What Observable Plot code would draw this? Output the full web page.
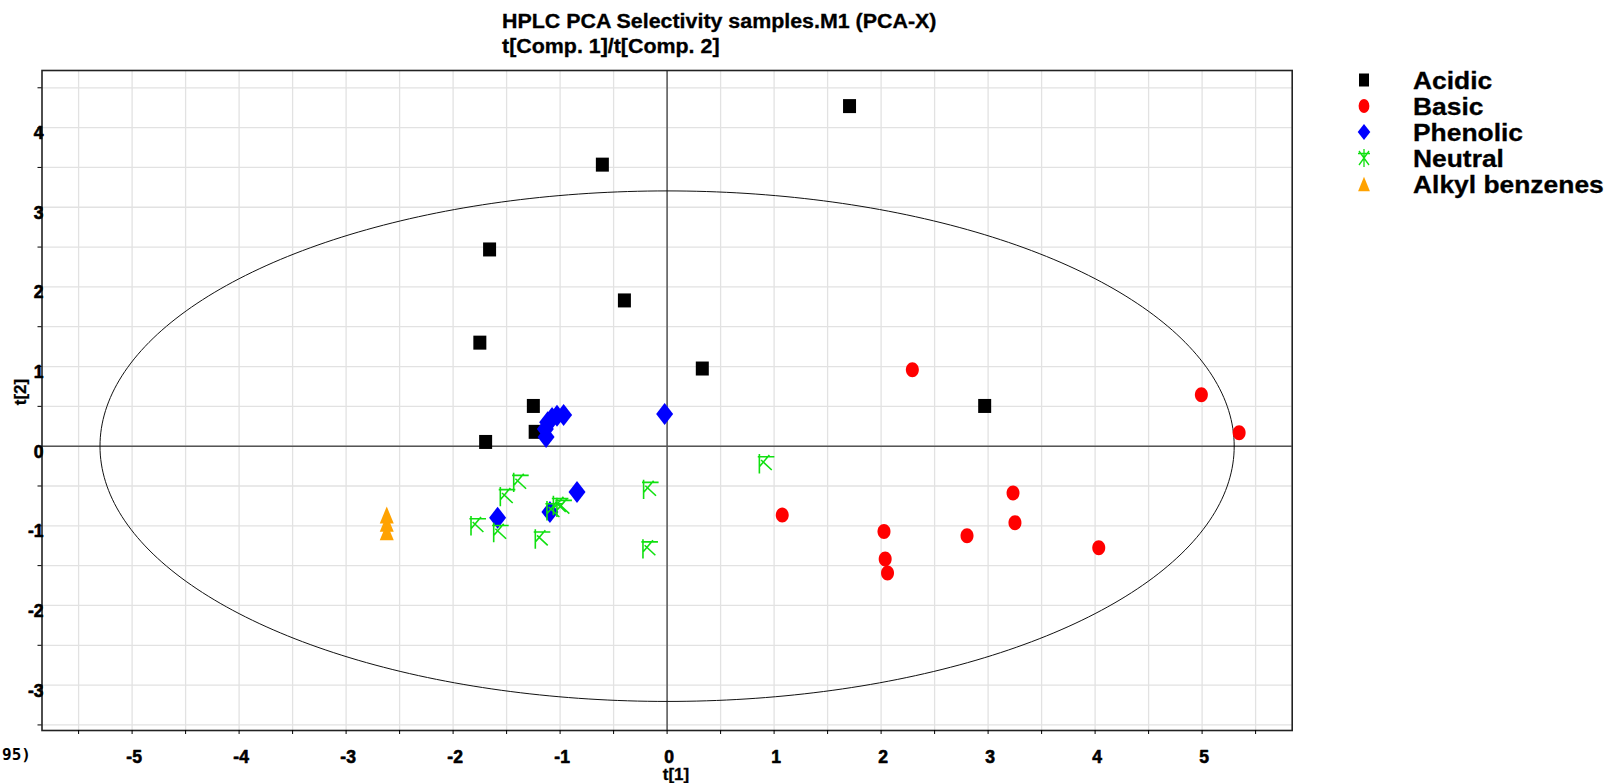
<!DOCTYPE html>
<html>
<head>
<meta charset="utf-8">
<script src="https://cdn.jsdelivr.net/npm/d3@7"></script>
<script src="https://cdn.jsdelivr.net/npm/@observablehq/plot@0.6"></script>
<style>
  body { margin: 0; background: #fff; }
  #wrap { position: relative; width: 1606px; height: 783px; overflow: hidden; font-family: "Liberation Sans", Arial, sans-serif; }
  #chart { position: absolute; left: 0; top: 0; }
  .t { position: absolute; white-space: nowrap; font-weight: bold; color: #000; line-height: 1; transform-origin: 0 0; -webkit-text-stroke: 0.3px #000; }
</style>
</head>
<body>
<div id="wrap">
  <div id="chart"></div>
  <div class="t" style="left:502px;top:10.5px;font-size:20px;transform:scaleX(1.07)">HPLC PCA Selectivity samples.M1 (PCA-X)</div>
  <div class="t" style="left:502px;top:35.5px;font-size:20px;transform:scaleX(1.07)">t[Comp. 1]/t[Comp. 2]</div>
  <div class="t" style="left:636px;top:766px;width:80px;text-align:center;font-size:17px">t[1]</div>
  <div class="t" style="left:20px;top:392px;font-size:17px;transform-origin:50% 50%;transform:translate(-50%,-50%) rotate(-90deg)">t[2]</div>
  <div class="t" style="left:2px;top:746.5px;font-size:16px;font-family:'DejaVu Sans Mono',monospace;-webkit-text-stroke:0">95)</div>
  <div id="legend"></div>
</div>
<script>
// ---------------- data ----------------
const categories = ["Acidic", "Basic", "Phenolic", "Neutral", "Alkyl benzenes"];

const acidicT1 = [1.705, -0.605, -1.659, -0.399, -1.750, 0.329, 2.968, -1.250, -1.233, -1.696];
const acidicT2 = [4.270, 3.535, 2.470, 1.830, 1.300, 0.975, 0.505, 0.505, 0.180, 0.053];

const basicT1 = [2.292, 4.993, 5.346, 1.076, 3.233, 3.251, 2.027, 2.803, 4.034, 2.038, 2.060];
const basicT2 = [0.961, 0.647, 0.170, -0.865, -0.588, -0.961, -1.070, -1.124, -1.275, -1.417, -1.593];

const phenolicT1 = [-0.023, -0.967, -1.029, -1.075, -1.116, -1.138, -1.131, -0.842, -1.095, -1.584];
const phenolicT2 = [0.405, 0.390, 0.383, 0.354, 0.300, 0.216, 0.115, -0.576, -0.825, -0.898];

const neutralT1 = [-1.371, -1.496, -1.770, -1.558, -1.169, -1.060, -0.967, -1.000, -0.157, -0.163, 0.925];
const neutralT2 = [-0.455, -0.634, -0.999, -1.083, -1.166, -0.810, -0.768, -0.745, -0.543, -1.290, -0.220];

const alkylT1 = [-2.620, -2.620, -2.620];
const alkylT2 = [-0.870, -0.975, -1.080];

const xTicks = [-5, -4, -3, -2, -1, 0, 1, 2, 3, 4, 5];
const yTicks = [-3, -2, -1, 0, 1, 2, 3, 4];
const xMinorTicks = [-5.5, -5, -4.5, -4, -3.5, -3, -2.5, -2, -1.5, -1, -0.5, 0, 0.5, 1, 1.5, 2, 2.5, 3, 3.5, 4, 4.5, 5, 5.5];
const yMinorTicks = [-3.5, -3, -2.5, -2, -1.5, -1, -0.5, 0, 0.5, 1, 1.5, 2, 2.5, 3, 3.5, 4, 4.5];

// Hotelling T2 (0.95) ellipse semi-axes
const ellipseA = 5.30;
const ellipseB = 3.205;

// ---------------- build tables ----------------
const zip = (xs, ys) => xs.map((x, i) => ({x, y: ys[i]}));
const acidic = zip(acidicT1, acidicT2);
const basic = zip(basicT1, basicT2);
const phenolic = zip(phenolicT1, phenolicT2);
const neutral = zip(neutralT1, neutralT2);
const alkyl = zip(alkylT1, alkylT2);
const ellipse = d3.range(0, 361, 1).map(deg => {
  const a = deg * Math.PI / 180;
  return {x: ellipseA * Math.cos(a), y: ellipseB * Math.sin(a)};
});

// ---------------- custom symbols ----------------
const rectSym = {draw(c) { c.rect(-6.5, -7, 13, 14); }};
const ovalSym = {draw(c) {
  const rx = 6.5, ry = 7.5, k = 0.5523;
  c.moveTo(rx, 0);
  c.bezierCurveTo(rx, ry * k, rx * k, ry, 0, ry);
  c.bezierCurveTo(-rx * k, ry, -rx, ry * k, -rx, 0);
  c.bezierCurveTo(-rx, -ry * k, -rx * k, -ry, 0, -ry);
  c.bezierCurveTo(rx * k, -ry, rx, -ry * k, rx, 0);
  c.closePath();
}};
const diamondSym = {draw(c) { c.moveTo(0, -11); c.lineTo(8.5, 0); c.lineTo(0, 11); c.lineTo(-8.5, 0); c.closePath(); }};
const triSym = {draw(c) { c.moveTo(0, -9); c.lineTo(7, 8); c.lineTo(-7, 8); c.closePath(); }};
const neutralSym = {draw(c) {
  c.moveTo(-6.7, -9.7); c.lineTo(-6.7, 9.7);
  c.moveTo(-8.3, -7); c.lineTo(8.3, -7);
  c.moveTo(-6.7, 3); c.lineTo(3.3, -8.7);
  c.moveTo(-5, -3.7); c.lineTo(5.7, 6.3);
}};

const green = "#10e010";
const orange = "#ffa200";

const plot = Plot.plot({
  width: 1606,
  height: 783,
  marginLeft: 41.5,
  marginRight: 314.3,
  marginTop: 70,
  marginBottom: 53,
  x: {domain: [-5.842, 5.842]},
  y: {domain: [-3.57, 4.717]},
  style: {background: "transparent", fontFamily: "Liberation Sans, Arial, sans-serif"},
  marks: [
    Plot.gridX(xMinorTicks, {stroke: "#e2e2e2", strokeOpacity: 1, strokeWidth: 1.3}),
    Plot.gridY(yMinorTicks, {stroke: "#e2e2e2", strokeOpacity: 1, strokeWidth: 1.3}),
    Plot.ruleX([0], {stroke: "#555", strokeWidth: 1.5}),
    Plot.ruleY([0], {stroke: "#555", strokeWidth: 1.5}),
    Plot.line(ellipse, {x: "x", y: "y", stroke: "#111", strokeWidth: 1}),
    Plot.frame({stroke: "#222", strokeWidth: 1.6}),
    Plot.axisX(xMinorTicks, {tickSize: 4, tickFormat: () => "", label: null, stroke: "#000"}),
    Plot.axisY(yMinorTicks, {tickSize: 4, tickFormat: () => "", label: null, stroke: "#000"}),
    Plot.text(xTicks, {x: d => d, frameAnchor: "bottom", dy: 27, dx: 2, text: d => String(d),
      fontWeight: "bold", fontSize: 17.5, lineAnchor: "middle", fill: "#000", stroke: "#000", strokeWidth: 0.6}),
    Plot.text(yTicks, {y: d => d, frameAnchor: "left", dx: 1.5, dy: 6, textAnchor: "end", text: d => String(d),
      fontWeight: "bold", fontSize: 17.5, lineAnchor: "middle", fill: "#000", stroke: "#000", strokeWidth: 0.6}),
    Plot.dot(acidic, {x: "x", y: "y", symbol: rectSym, fill: "#000", stroke: "none", r: 7}),
    Plot.dot(basic, {x: "x", y: "y", symbol: ovalSym, fill: "#ff0000", stroke: "none", r: 7}),
    Plot.dot(phenolic, {x: "x", y: "y", symbol: diamondSym, fill: "#0000ff", stroke: "none", r: 7}),
    Plot.dot(neutral, {x: "x", y: "y", symbol: neutralSym, fill: "none", stroke: green, strokeWidth: 1.6, r: 7}),
    Plot.dot(alkyl, {x: "x", y: "y", symbol: triSym, fill: orange, stroke: "none", r: 7})
  ]
});
document.getElementById("chart").appendChild(plot);

// ---------------- legend ----------------
const legendMarkers = {
  "Acidic": `<rect x="-5" y="-6.5" width="10" height="13" fill="#000"/>`,
  "Basic": `<ellipse cx="0" cy="0" rx="5.4" ry="7.1" fill="#ff0000"/>`,
  "Phenolic": `<path d="M0,-7.9L6.3,0L0,7.9L-6.3,0Z" fill="#0000ff"/>`,
  "Neutral": `<path d="M0,-9V9M-6,-4.5H6M-5,-7L5,7M5,-7L-5,7" stroke="${green}" stroke-width="1.3" fill="none"/>`,
  "Alkyl benzenes": `<path d="M0,-7.2L5.9,7.2L-5.9,7.2Z" fill="${orange}"/>`
};
const legend = document.getElementById("legend");
categories.forEach((cat, i) => {
  const cy = 80 + 26.1 * i;
  const baseline = 89 + 26.0 * i;
  const m = document.createElement("div");
  m.style.cssText = `position:absolute;left:${1364 - 12}px;top:${cy - 12}px;width:24px;height:24px;`;
  m.innerHTML = `<svg width="24" height="24" viewBox="-12 -12 24 24">${legendMarkers[cat]}</svg>`;
  legend.appendChild(m);
  const t = document.createElement("div");
  t.className = "t";
  t.style.cssText += `left:1413.3px;top:${baseline - 20.3}px;font-size:24px;transform:scaleX(1.1);`;
  t.textContent = cat;
  legend.appendChild(t);
});
</script>
</body>
</html>
